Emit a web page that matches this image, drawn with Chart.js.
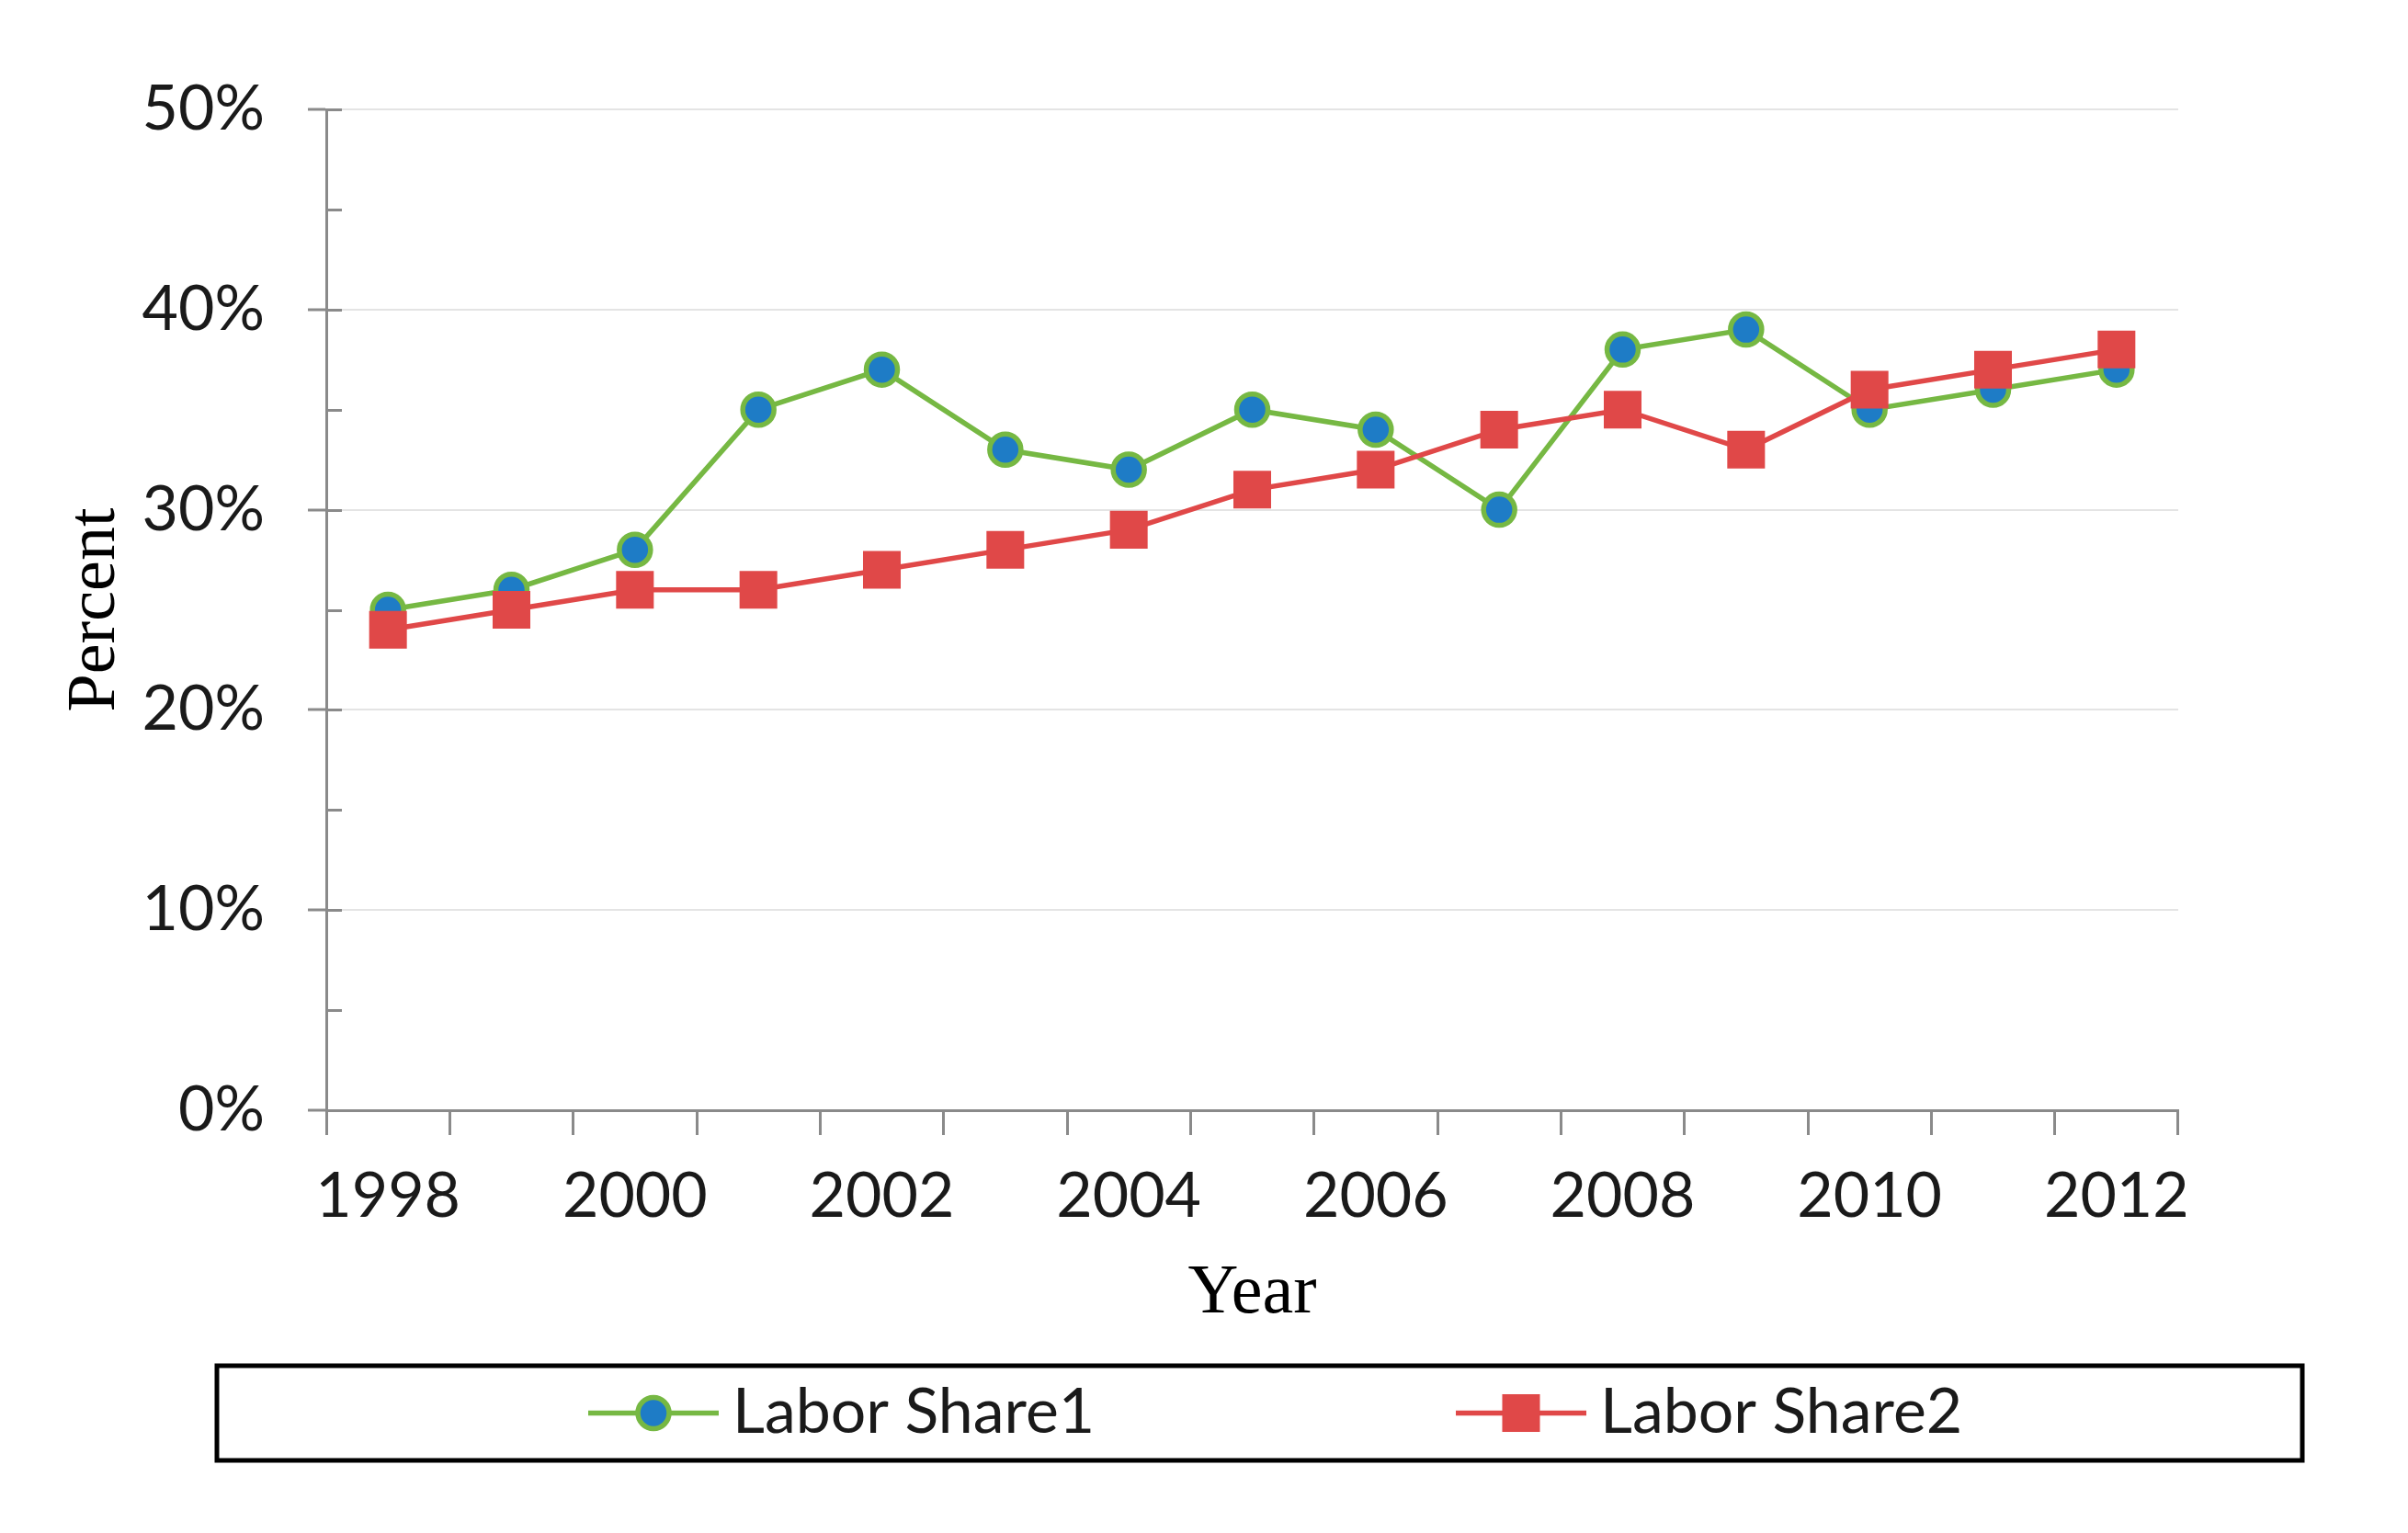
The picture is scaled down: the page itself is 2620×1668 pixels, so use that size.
<!DOCTYPE html>
<html>
<head>
<meta charset="utf-8">
<script src="https://cdn.jsdelivr.net/npm/chart.js@4/dist/chart.umd.min.js"></script>
<style>
  html, body { margin: 0; padding: 0; background: #fff; }
  canvas { display: block; }
</style>
</head>
<body>
<canvas id="labor-chart" width="2620" height="1668"></canvas>
<script>
var years = ["1998", "1999", "2000", "2001", "2002", "2003", "2004", "2005",
             "2006", "2007", "2008", "2009", "2010", "2011", "2012"];
var laborShare1 = [25, 26, 28, 35, 37, 33, 32, 35, 34, 30, 38, 39, 35, 36, 37];
var laborShare2 = [24, 25, 26, 26, 27, 28, 29, 31, 32, 34, 35, 33, 36, 37, 38];
var seriesNames = ["Labor Share1", "Labor Share2"];

var GREEN = "#76b843";
var BLUE = "#1e7cc6";
var RED = "#e04848";
var AXIS = "#8a8a8a";
var TEXT = "#1a1a1a";

// small inward stubs on the value axis, like the Excel original
var innerTicks = {
  id: "innerTicks",
  afterDatasetsDraw: function (chart) {
    var y = chart.scales.y, ctx = chart.ctx, left = chart.chartArea.left;
    ctx.save();
    ctx.strokeStyle = AXIS;
    ctx.lineWidth = 3;
    y.ticks.forEach(function (t) {
      if (t.value === 0) return;
      var py = Math.round(y.getPixelForValue(t.value)) + 0.5;
      ctx.beginPath();
      ctx.moveTo(left, py);
      ctx.lineTo(left + 17, py);
      ctx.stroke();
    });
    ctx.restore();
  }
};

// boxed legend below the axis title
var boxedLegend = {
  id: "boxedLegend",
  afterDraw: function (chart) {
    var ctx = chart.ctx;
    var box = { left: 236, top: 1486, right: 2505, bottom: 1589 };
    var cy = (box.top + box.bottom) / 2;
    ctx.save();
    ctx.lineWidth = 5;
    ctx.strokeStyle = "#000";
    ctx.strokeRect(box.left, box.top, box.right - box.left, box.bottom - box.top);

    var items = [{ x: 640, ds: chart.data.datasets[0] }, { x: 1584, ds: chart.data.datasets[1] }];
    items.forEach(function (it) {
      var ds = it.ds;
      ctx.strokeStyle = ds.borderColor;
      ctx.lineWidth = ds.borderWidth;
      ctx.beginPath();
      ctx.moveTo(it.x, cy);
      ctx.lineTo(it.x + 142, cy);
      ctx.stroke();
      var mx = it.x + 71;
      if (ds.pointStyle === "rect") {
        var s = ds.pointRadius * Math.SQRT1_2;
        ctx.fillStyle = ds.pointBackgroundColor;
        ctx.fillRect(mx - s, cy - s, 2 * s, 2 * s);
      } else {
        ctx.beginPath();
        ctx.arc(mx, cy, ds.pointRadius, 0, Math.PI * 2);
        ctx.fillStyle = ds.pointBackgroundColor;
        ctx.fill();
        ctx.lineWidth = ds.pointBorderWidth;
        ctx.strokeStyle = ds.pointBorderColor;
        ctx.stroke();
      }
      ctx.fillStyle = TEXT;
      ctx.font = "68px Lato";
      ctx.textBaseline = "middle";
      ctx.textAlign = "left";
      ctx.fillText(ds.label, it.x + 157, cy);
    });
    ctx.restore();
  }
};

new Chart(document.getElementById("labor-chart"), {
  type: "line",
  data: {
    labels: years,
    datasets: [
      {
        label: seriesNames[0],
        data: laborShare1,
        borderColor: GREEN,
        borderWidth: 5.5,
        pointStyle: "circle",
        pointRadius: 17,
        pointBorderWidth: 5.5,
        pointBackgroundColor: BLUE,
        pointBorderColor: GREEN,
        tension: 0,
        order: 1
      },
      {
        label: seriesNames[1],
        data: laborShare2,
        borderColor: RED,
        borderWidth: 5.5,
        pointStyle: "rect",
        pointRadius: 29,
        pointBorderWidth: 0,
        pointBackgroundColor: RED,
        pointBorderColor: RED,
        tension: 0,
        order: 0
      }
    ]
  },
  options: {
    responsive: false,
    devicePixelRatio: 1,
    animation: false,
    layout: { padding: { left: 0, top: 119, right: 250, bottom: 210 } },
    plugins: {
      legend: { display: false },
      tooltip: { enabled: false }
    },
    scales: {
      x: {
        type: "category",
        offset: true,
        afterFit: function (scale) { scale.height = 250; },
        grid: {
          offset: true,
          drawOnChartArea: false,
          drawTicks: true,
          tickLength: 27,
          tickColor: AXIS,
          tickWidth: 3
        },
        border: { color: AXIS, width: 3 },
        ticks: {
          autoSkip: false,
          maxRotation: 0,
          padding: 26,
          color: TEXT,
          font: { family: "Lato", size: 68 },
          callback: function (value, index) {
            return index % 2 === 0 ? years[index] : "";
          }
        },
        title: {
          display: true,
          text: "Year",
          color: "#000",
          font: { family: "Liberation Serif", size: 76 },
          padding: { top: 0, bottom: 4 }
        }
      },
      y: {
        min: 0,
        max: 50,
        afterFit: function (scale) { scale.width = 355; },
        grid: {
          color: function (c) {
            return c.tick && c.tick.value % 10 === 0 && c.tick.value !== 0 ? "#e4e4e4" : "rgba(0,0,0,0)";
          },
          lineWidth: 2,
          drawTicks: true,
          tickLength: 20,
          tickWidth: 3,
          tickColor: function (c) {
            return c.tick && c.tick.value % 10 === 0 ? AXIS : "rgba(0,0,0,0)";
          }
        },
        border: { color: AXIS, width: 3 },
        ticks: {
          stepSize: 5,
          padding: 47,
          color: TEXT,
          font: { family: "Lato", size: 68 },
          callback: function (value) {
            return value % 10 === 0 ? value + "%" : "";
          }
        },
        title: {
          display: true,
          text: "Percent",
          color: "#000",
          font: { family: "Liberation Serif", size: 74 },
          padding: { top: 60, bottom: 0 }
        }
      }
    }
  },
  plugins: [innerTicks, boxedLegend]
});
</script>
</body>
</html>
